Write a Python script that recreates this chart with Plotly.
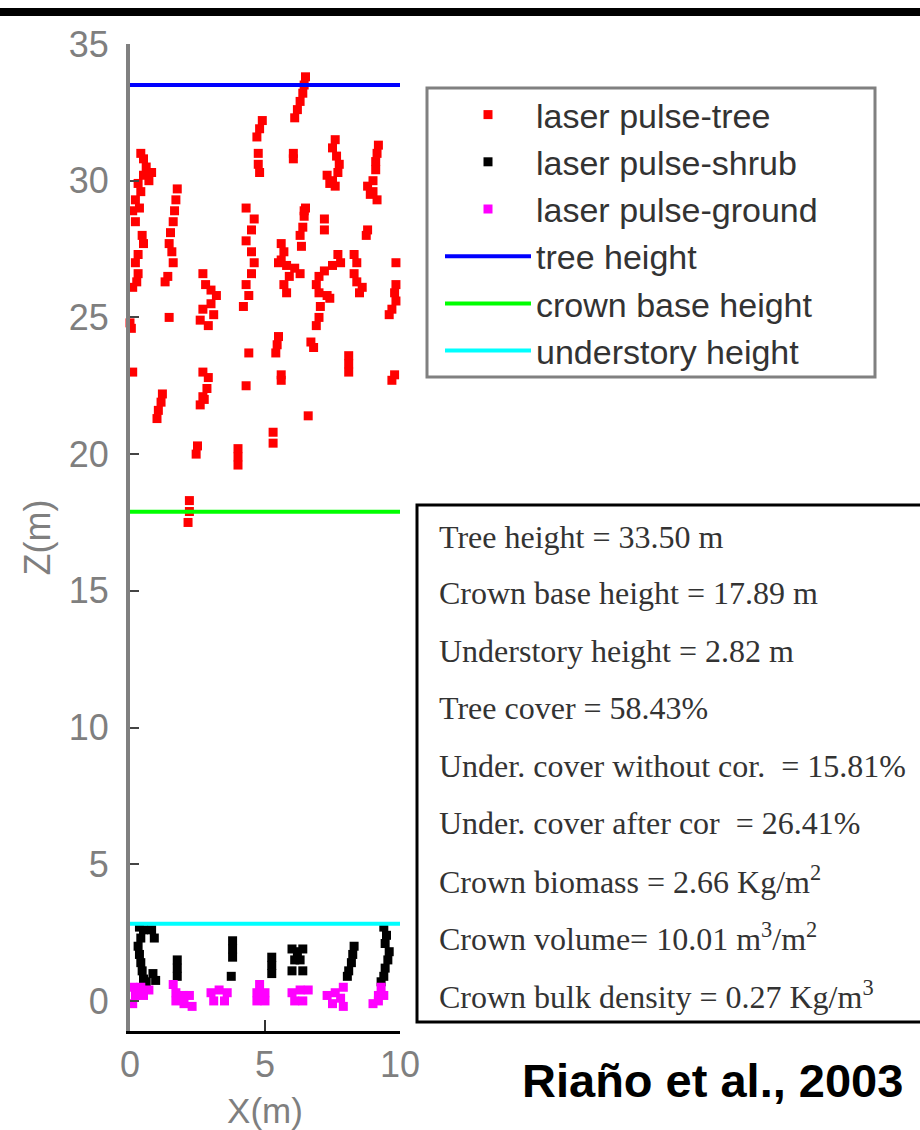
import plotly.graph_objects as go

# ---------------- data ----------------
tree_x = [0.4, 0.5, 0.6, 0.8, 0.5, 0.3, 0.7, 0.4, 0.2, 0.35,
          0.1, 0.2, 0.45, 0.5, 0.3, 0.2, 0.3, 0.25, 0.1, 0.05, 0.0,
          1.75, 1.7, 1.65, 1.6, 1.5, 1.45, 1.55, 1.6, 1.3, 1.4, 1.45,
          2.7, 2.8, 3.0, 3.2, 3.0, 2.7, 3.1, 2.6, 2.9,
          4.3, 4.6, 4.5, 4.3, 4.5, 4.6, 4.5, 4.3, 4.4, 4.2, 4.4,
          4.9, 4.8, 4.7, 4.75, 4.75, 4.8,
          6.5, 6.45, 6.4, 6.3, 6.2, 6.1, 6.05, 6.05,
          7.6, 7.5, 7.65, 7.75, 7.7, 7.5, 7.3, 7.6, 7.4,
          9.2, 9.15, 9.1, 9.1, 9.0, 8.8, 8.9, 9.15, 9.0,
          6.45, 6.5, 6.45, 6.4, 6.3, 6.35, 7.2, 7.2, 8.8, 8.75,
          5.6, 5.7, 5.6, 5.8, 6.1, 6.3, 5.9, 5.7, 5.8, 5.5,
          7.7, 7.8, 7.5, 7.2, 7.0, 6.9, 7.0, 7.3, 7.4,
          8.3, 8.4, 8.3, 8.4, 8.6, 8.5, 9.85,
          9.85, 9.8, 9.85, 9.7, 9.6,
          7.05, 7.0, 6.9, 5.5, 5.45, 5.4, 6.7, 6.8,
          8.1, 8.1, 8.1, 0.1,
          2.7, 2.9, 2.85, 2.7, 2.6, 2.75,
          1.2, 1.15, 1.05, 1.0,
          4.3, 5.6, 5.6, 9.7, 9.8, 6.6,
          5.3, 5.3, 2.5, 2.45, 4.0, 4.0, 4.0,
          2.2, 2.2, 2.15]
tree_z = [31.0, 30.8, 30.5, 30.3, 30.2, 29.9, 30.0, 29.6, 29.3, 29.0,
          28.9, 28.5, 28.0, 27.7, 27.3, 27.0, 26.6, 26.3, 26.1, 24.6, 24.8,
          29.7, 29.3, 28.9, 28.5, 28.1, 27.7, 27.4, 27.0, 26.3, 26.5, 25.0,
          26.6, 26.2, 26.0, 25.8, 25.5, 25.3, 25.1, 24.9, 24.7,
          29.0, 28.6, 28.2, 27.8, 27.4, 27.0, 26.6, 26.2, 25.8, 25.4, 23.7,
          32.2, 31.9, 31.6, 31.0, 30.6, 30.3,
          33.8, 33.5, 33.2, 32.9, 32.6, 32.3, 31.0, 30.8,
          31.5, 31.2, 30.9, 30.6, 30.3, 30.0, 30.2, 29.8, 29.9,
          31.3, 31.0, 30.7, 30.4, 30.0, 29.8, 29.5, 29.3, 29.6,
          28.9, 29.0, 28.7, 28.3, 28.0, 27.6, 28.6, 28.2, 28.2, 28.0,
          27.7, 27.4, 27.1, 26.9, 26.8, 26.6, 26.5, 26.2, 25.9, 27.0,
          27.3, 27.0, 26.9, 26.7, 26.5, 26.2, 25.9, 25.8, 25.7,
          27.3, 27.0, 26.6, 26.3, 26.1, 25.9, 27.0,
          26.2, 25.9, 25.6, 25.3, 25.1,
          25.4, 25.0, 24.7, 24.3, 24.0, 23.7, 24.1, 23.9,
          23.6, 23.3, 23.0, 23.0,
          23.0, 22.8, 22.4, 22.1, 21.8, 22.0,
          22.2, 21.9, 21.6, 21.3,
          22.5, 22.7, 22.9, 22.7, 22.9, 21.4,
          20.8, 20.4, 20.3, 20.0, 20.2, 19.9, 19.6,
          18.3, 17.9, 17.5]

shrub_x = [0.35, 0.5, 0.8, 0.9, 0.4, 0.3, 0.35, 0.4, 0.45, 0.5, 0.85, 0.95, 0.6,
           1.75, 1.75, 1.75,
           3.8, 3.8, 3.8, 3.75,
           5.25, 5.25, 5.25,
           6.0, 6.2, 6.4, 6.1, 6.3, 6.0, 6.4,
           8.3, 8.25, 8.2, 8.1, 8.05,
           9.4, 9.5, 9.45, 9.6, 9.55, 9.45, 9.4, 9.3]
shrub_z = [2.7, 2.6, 2.6, 2.3, 2.3, 2.0, 1.7, 1.4, 1.1, 0.8, 1.0, 0.75, 0.7,
           1.5, 1.2, 0.9,
           2.2, 1.9, 1.6, 0.9,
           1.6, 1.3, 1.0,
           1.9, 1.8, 1.9, 1.5, 1.5, 1.1, 1.1,
           2.0, 1.7, 1.4, 1.1, 0.9,
           2.7, 2.4, 2.1, 1.8, 1.5, 1.2, 0.9, 0.7]

ground_x = [0.1, 0.4, 0.7, 0.2, 0.5, 0.1,
            1.6, 1.7, 2.0, 2.2, 1.7, 2.0, 2.3,
            3.0, 3.3, 3.6, 3.1, 3.5,
            4.8, 4.7, 5.0, 4.7, 5.0,
            6.0, 6.3, 6.6, 6.1, 6.4,
            7.9, 7.6, 7.3, 7.8, 7.5, 7.9,
            9.3, 9.2, 9.4, 9.0, 9.2]
ground_z = [0.5, 0.5, 0.4, 0.2, 0.2, -0.1,
            0.6, 0.3, 0.2, 0.2, 0.0, -0.1, -0.2,
            0.3, 0.4, 0.3, 0.0, 0.0,
            0.6, 0.3, 0.3, 0.0, 0.0,
            0.3, 0.4, 0.4, 0.0, 0.0,
            0.5, 0.3, 0.2, 0.1, -0.1, -0.2,
            0.5, 0.2, 0.2, -0.1, 0.0]

line_x = [0, 10]
tree_height = 33.50
crown_base_height = 17.89
understory_height = 2.82

x_ticks = [0, 5, 10]
z_ticks = [0, 5, 10, 15, 20, 25, 30, 35]

stats_lines = [
    "Tree height = 33.50 m",
    "Crown base height = 17.89 m",
    "Understory height = 2.82 m",
    "Tree cover = 58.43%",
    "Under. cover without cor.  = 15.81%",
    "Under. cover after cor  = 26.41%",
    "Crown biomass = 2.66 Kg/m<sup>2</sup>",
    "Crown volume= 10.01 m<sup>3</sup>/m<sup>2</sup>",
    "Crown bulk density = 0.27 Kg/m<sup>3</sup>",
]
citation = "Riaño et al., 2003"

# ---------------- layout geometry (pixels) ----------------
W, H = 920, 1130
L, R, T, B = 130, 400, 44, 1031   # plot area edges in px


def px(xp):
    return (xp - L) / (R - L)


def py(yp):
    return (B - yp) / (B - T)


fig = go.Figure()
mk = dict(symbol="square", size=9, line=dict(width=0))
fig.add_trace(go.Scatter(x=tree_x, y=tree_z, mode="markers", name="laser pulse-tree",
                         marker=dict(color="#ff0000", **mk), cliponaxis=False))
fig.add_trace(go.Scatter(x=shrub_x, y=shrub_z, mode="markers", name="laser pulse-shrub",
                         marker=dict(color="#000000", **mk), cliponaxis=False))
fig.add_trace(go.Scatter(x=ground_x, y=ground_z, mode="markers", name="laser pulse-ground",
                         marker=dict(color="#ff00ff", **mk), cliponaxis=False))
fig.add_trace(go.Scatter(x=line_x, y=[tree_height] * 2, mode="lines", name="tree height",
                         line=dict(color="#0000ff", width=4)))
fig.add_trace(go.Scatter(x=line_x, y=[crown_base_height] * 2, mode="lines", name="crown base height",
                         line=dict(color="#00ff00", width=4)))
fig.add_trace(go.Scatter(x=line_x, y=[understory_height] * 2, mode="lines", name="understory height",
                         line=dict(color="#00ffff", width=4)))

shapes = [
    # top black band
    dict(type="rect", xref="paper", yref="paper", x0=px(-5), x1=px(W + 5), y0=py(16), y1=py(8),
         fillcolor="#000000", line=dict(width=0)),
    # legend box
    dict(type="rect", xref="paper", yref="paper", x0=px(427), x1=px(875), y0=py(377), y1=py(88),
         fillcolor="rgba(0,0,0,0)", line=dict(color="#808080", width=3)),
    # stats box
    dict(type="rect", xref="paper", yref="paper", x0=px(417), x1=px(922), y0=py(1022), y1=py(505),
         fillcolor="rgba(0,0,0,0)", line=dict(color="#000000", width=3)),
]

annotations = []
row_y = [537, 593, 651, 708, 766, 823, 880, 937, 995]
for txt, yy in zip(stats_lines, row_y):
    annotations.append(dict(xref="paper", yref="paper", x=px(437), y=py(yy), xanchor="left",
                            yanchor="middle", text=txt, showarrow=False,
                            font=dict(family="Liberation Serif, Times New Roman, serif", size=32,
                                      color="#333333")))
annotations.append(dict(xref="paper", yref="paper", x=px(712), y=py(1080), xanchor="center",
                        yanchor="middle", text="<b>" + citation + "</b>", showarrow=False,
                        font=dict(family="Liberation Sans, Arial, sans-serif", size=47, color="#000000")))

fig.update_layout(
    width=W, height=H,
    margin=dict(l=L, r=W - R, t=T, b=H - B, pad=0, autoexpand=False),
    paper_bgcolor="white", plot_bgcolor="white",
    showlegend=True,
    legend=dict(x=px(440), y=py(86), xanchor="left", yanchor="top",
                bgcolor="rgba(0,0,0,0)", borderwidth=0, itemwidth=86,
                font=dict(family="Liberation Sans, Arial, sans-serif", size=34, color="#333333"),
                tracegroupgap=0),
    shapes=shapes,
    annotations=annotations,
    font=dict(family="Liberation Sans, Arial, sans-serif"),
)
fig.update_xaxes(range=[0, 10], tickvals=x_ticks, ticks="inside", ticklen=11, tickwidth=2,
                 tickcolor="#333333", showline=True, linecolor="#000000", linewidth=3,
                 showgrid=False, zeroline=False, mirror=False, automargin=False,
                 tickfont=dict(size=36, color="#7f7f7f"),
                 title=dict(text="X(m)", font=dict(size=35, color="#7f7f7f"), standoff=16))
fig.update_yaxes(range=[-1.1, 35], tickvals=z_ticks, ticks="inside", ticklen=9, tickwidth=2,
                 tickcolor="#444444", showline=True, linecolor="#808080", linewidth=4,
                 showgrid=False, zeroline=False, mirror=False, automargin=False,
                 tickfont=dict(size=36, color="#7f7f7f"), ticklabelstandoff=10,
                 title=dict(text="Z(m)", font=dict(size=36, color="#7f7f7f"), standoff=8))

fig.write_html("out.html")
